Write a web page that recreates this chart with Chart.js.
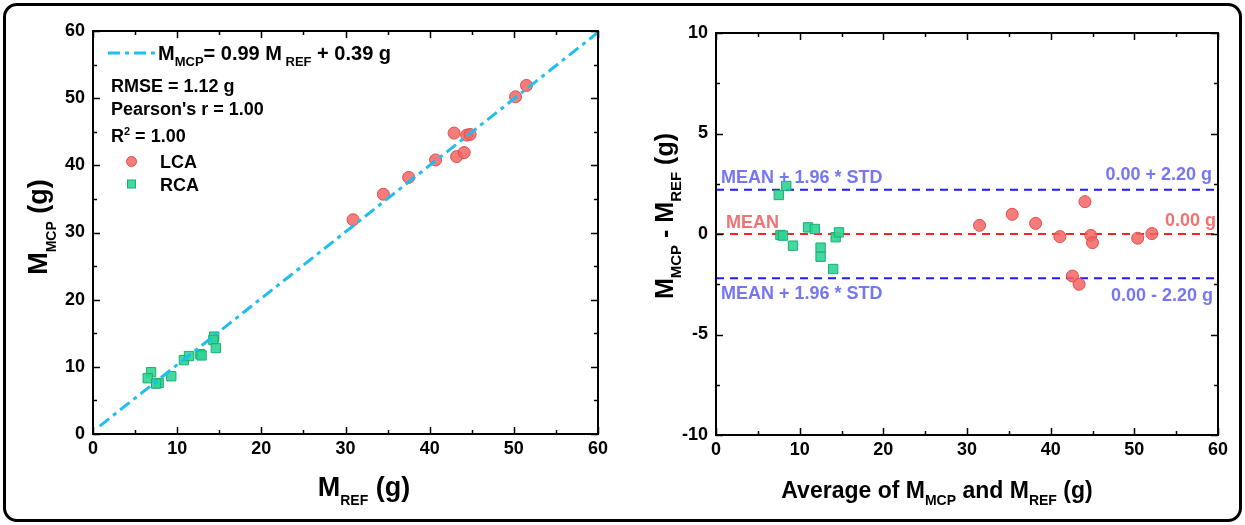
<!DOCTYPE html>
<html>
<head>
<meta charset="utf-8">
<script src="https://cdn.jsdelivr.net/npm/chart.js@4.4.1/dist/chart.umd.min.js"></script>
<style>
  body { margin: 0; background: #fff; width: 1245px; height: 525px; overflow: hidden; position: relative; }
  #frame { position: absolute; left: 3px; top: 3px; width: 1233px; height: 513px; border: 3px solid #000; border-radius: 14px; }
  canvas { position: absolute; top: 0; }
</style>
</head>
<body>
<div id="frame"></div>
<canvas id="left" width="620" height="525" style="left:0"></canvas>
<canvas id="right" width="625" height="525" style="left:620px"></canvas>
<script>
// correlation plot (x = M_REF, y = M_MCP)
const lcaRef = [30.9, 34.5, 37.5, 40.7, 42.9, 43.2, 44.1, 44.4, 44.8, 50.2, 51.5];
const lcaMcp = [31.9, 35.7, 38.2, 40.8, 44.8, 41.3, 41.9, 44.5, 44.6, 50.2, 51.9];
const rcaRef = [6.9, 6.5, 7.8, 7.5, 9.3, 10.8, 11.4, 12.7, 12.9, 14.4, 14.3, 14.6];
const rcaMcp = [9.2, 8.3, 7.6, 7.5, 8.6, 11.0, 11.6, 11.9, 11.7, 14.5, 14.0, 12.8];
const fitSlope = 0.99;
const fitIntercept = 0.39;
const fitRange = [0.8, 60];

// Bland-Altman plot (x = average, y = difference)
const lcaAvg = [31.5, 35.4, 38.2, 41.1, 44.1, 44.8, 45.0, 50.4, 52.1, 42.6, 43.4];
const lcaDiff = [0.43, 0.98, 0.53, -0.13, 1.61, -0.07, -0.43, -0.21, 0.02, -2.09, -2.50];
const rcaAvg = [7.5, 8.4, 7.7, 8.0, 9.2, 11.0, 11.8, 12.5, 12.5, 14.0, 14.3, 14.7];
const rcaDiff = [1.94, 2.39, -0.05, -0.08, -0.58, 0.33, 0.25, -0.68, -1.13, -1.74, -0.16, 0.08];
const meanDiff = 0.00;
const loa = 2.20;

const FONT = '"Liberation Sans", Arial, sans-serif';
const toXY = (xs, ys) => xs.map((v, i) => ({ x: v, y: ys[i] }));

const lcaStyle = { pointStyle: 'circle', pointRadius: 6, backgroundColor: 'rgba(245,100,100,0.85)', borderColor: 'rgb(225,75,75)', borderWidth: 1 };
const rcaStyle = { pointStyle: 'rect', pointRadius: 6.6, backgroundColor: 'rgba(45,212,150,0.9)', borderColor: 'rgb(25,175,110)', borderWidth: 1 };

// text with sub/superscripts, y is the baseline
function drawRich(ctx, parts, x, y, o) {
  const f = m => `bold ${m === 0 ? o.size : o.small}px ${FONT}`;
  let w = 0;
  parts.forEach(([t, m]) => { ctx.font = f(m); w += ctx.measureText(t).width; });
  ctx.save();
  ctx.translate(x, y);
  if (o.rot) ctx.rotate(o.rot);
  ctx.scale(o.sx || 1, 1);
  let cx = o.align === 'center' ? -w / 2 : o.align === 'right' ? -w : 0;
  ctx.textAlign = 'left';
  ctx.textBaseline = 'alphabetic';
  ctx.fillStyle = o.color || '#000';
  parts.forEach(([t, m]) => {
    ctx.font = f(m);
    const dy = m === 1 ? o.size * 0.32 : m === 2 ? -o.size * 0.4 : 0;
    ctx.fillText(t, cx, dy);
    cx += ctx.measureText(t).width;
  });
  ctx.restore();
}

// box around plot + inward ticks on all sides
const frameTicks = {
  id: 'frameTicks',
  afterDatasetsDraw(chart, args, opts) {
    const { ctx, chartArea: a, scales: { x, y } } = chart;
    ctx.save();
    ctx.strokeStyle = '#000';
    ctx.lineWidth = 1.5;
    ctx.beginPath();
    for (let v = x.min; v <= x.max + 1e-9; v += opts.xMinor) {
      const p = Math.round(x.getPixelForValue(v)) + 0.5;
      const len = Math.abs(v / opts.xMajor - Math.round(v / opts.xMajor)) < 1e-6 ? 7 : 4;
      ctx.moveTo(p, a.bottom); ctx.lineTo(p, a.bottom - len);
      ctx.moveTo(p, a.top); ctx.lineTo(p, a.top + len);
    }
    for (let v = y.min; v <= y.max + 1e-9; v += opts.yMinor) {
      const p = Math.round(y.getPixelForValue(v)) + 0.5;
      const len = Math.abs(v / opts.yMajor - Math.round(v / opts.yMajor)) < 1e-6 ? 7 : 4;
      ctx.moveTo(a.left, p); ctx.lineTo(a.left + len, p);
      ctx.moveTo(a.right, p); ctx.lineTo(a.right - len, p);
    }
    ctx.stroke();
    ctx.lineWidth = 2;
    ctx.strokeRect(a.left, a.top, a.right - a.left, a.bottom - a.top);
    ctx.restore();
  }
};

const tickFont = { family: FONT, weight: 'bold', size: 18 };

function axes(yMin, yMax, yStep, yWidth, xHeight) {
  return {
    x: {
      type: 'linear', min: 0, max: 60,
      ticks: { stepSize: 10, font: tickFont, color: '#000', padding: 4, autoSkip: false, maxRotation: 0 },
      grid: { display: false, drawTicks: false }, border: { display: false },
      afterFit(s) { s.height = xHeight; }
    },
    y: {
      type: 'linear', min: yMin, max: yMax,
      ticks: { stepSize: yStep, font: tickFont, color: '#000', padding: 8, autoSkip: false },
      grid: { display: false, drawTicks: false }, border: { display: false },
      afterFit(s) { s.width = yWidth; }
    }
  };
}

// left chart: legend block and axis titles
const leftDeco = {
  id: 'leftDeco',
  afterDraw(chart) {
    const ctx = chart.ctx;
    ctx.save();
    ctx.strokeStyle = 'rgb(30,190,240)';
    ctx.lineWidth = 3;
    ctx.setLineDash([12, 5, 4, 5]);
    ctx.beginPath(); ctx.moveTo(108, 53); ctx.lineTo(155, 53); ctx.stroke();
    ctx.restore();
    drawRich(ctx, [['M', 0], ['MCP', 1], ['= 0.99 M', 0], [' REF', 1], [' + 0.39 g', 0]], 158, 60, { size: 20, small: 13 });
    drawRich(ctx, [['RMSE = 1.12 g', 0]], 111, 92, { size: 18, small: 11 });
    drawRich(ctx, [["Pearson's r = 1.00", 0]], 111, 115, { size: 18, small: 11 });
    drawRich(ctx, [['R', 0], ['2', 2], [' = 1.00', 0]], 111, 142, { size: 18, small: 11 });
    ctx.save();
    ctx.fillStyle = lcaStyle.backgroundColor; ctx.strokeStyle = lcaStyle.borderColor;
    ctx.beginPath(); ctx.arc(131.5, 161.5, 5, 0, Math.PI * 2); ctx.fill(); ctx.stroke();
    ctx.fillStyle = rcaStyle.backgroundColor; ctx.strokeStyle = rcaStyle.borderColor;
    ctx.fillRect(127.5, 180, 8, 8); ctx.strokeRect(127.5, 180, 8, 8);
    ctx.restore();
    drawRich(ctx, [['LCA', 0]], 160, 168, { size: 18, small: 11 });
    drawRich(ctx, [['RCA', 0]], 160, 191, { size: 18, small: 11 });
    drawRich(ctx, [['M', 0], ['REF', 1], [' (g)', 0]], 364, 496, { size: 27, small: 14, align: 'center' });
    drawRich(ctx, [['M', 0], ['MCP', 1], [' (g)', 0]], 47, 227, { size: 27, small: 14, align: 'center', rot: -Math.PI / 2 });
  }
};

// right chart: limit labels and axis titles
const rightDeco = {
  id: 'rightDeco',
  afterDraw(chart) {
    const ctx = chart.ctx, y = chart.scales.y, a = chart.chartArea;
    const blue = 'rgb(118,118,240)', red = 'rgb(240,115,115)';
    const up = y.getPixelForValue(meanDiff + loa), mid = y.getPixelForValue(meanDiff), lo = y.getPixelForValue(meanDiff - loa);
    const o = { size: 18, small: 11, color: blue };
    drawRich(ctx, [['MEAN + 1.96 * STD', 0]], a.left + 5, up - 7, o);
    drawRich(ctx, [['MEAN + 1.96 * STD', 0]], a.left + 5, lo + 21, o);
    drawRich(ctx, [['0.00 + 2.20 g', 0]], a.right - 6, up - 10, { ...o, align: 'right' });
    drawRich(ctx, [['0.00 - 2.20 g', 0]], a.right - 5, lo + 23, { ...o, align: 'right' });
    drawRich(ctx, [['MEAN', 0]], a.left + 10, mid - 6, { ...o, color: red });
    drawRich(ctx, [['0.00 g', 0]], a.right - 2, mid - 8, { ...o, color: red, align: 'right' });
    drawRich(ctx, [['Average of M', 0], ['MCP', 1], [' and M', 0], ['REF', 1], [' (g)', 0]], 317, 498, { size: 23, small: 14, align: 'center' });
    drawRich(ctx, [['M', 0], ['MCP', 1], [' - M', 0], ['REF', 1], [' (g)', 0]], 53, 216, { size: 25, small: 15, align: 'center', rot: -Math.PI / 2 });
  }
};

const common = {
  responsive: false,
  animation: false,
  plugins: { legend: { display: false }, tooltip: { enabled: false } }
};

new Chart(document.getElementById('left'), {
  type: 'scatter',
  data: {
    datasets: [
      {
        type: 'line',
        data: fitRange.map(v => ({ x: v, y: fitSlope * v + fitIntercept })),
        borderColor: 'rgb(30,190,240)', borderWidth: 3, borderDash: [12, 5, 4, 5], pointRadius: 0, fill: false
      },
      { label: 'LCA', data: toXY(lcaRef, lcaMcp), ...lcaStyle },
      { label: 'RCA', data: toXY(rcaRef, rcaMcp), ...rcaStyle }
    ]
  },
  options: {
    ...common,
    layout: { padding: { top: 31, right: 22, left: 0, bottom: 0 } },
    scales: axes(0, 60, 10, 93, 91),
    plugins: { ...common.plugins, frameTicks: { xMinor: 5, xMajor: 10, yMinor: 5, yMajor: 10 } }
  },
  plugins: [frameTicks, leftDeco]
});

const limitLine = (v, color) => ({
  type: 'line',
  data: [{ x: 0, y: v }, { x: 60, y: v }],
  borderColor: color, borderWidth: 2, borderDash: [8, 6], pointRadius: 0, fill: false
});

new Chart(document.getElementById('right'), {
  type: 'scatter',
  data: {
    datasets: [
      { label: 'LCA', data: toXY(lcaAvg, lcaDiff), ...lcaStyle },
      { label: 'RCA', data: toXY(rcaAvg, rcaDiff), ...rcaStyle },
      limitLine(meanDiff + loa, 'rgb(30,30,245)'),
      limitLine(meanDiff, 'rgb(245,35,35)'),
      limitLine(meanDiff - loa, 'rgb(30,30,245)')
    ]
  },
  options: {
    ...common,
    layout: { padding: { top: 33, right: 27, left: 0, bottom: 0 } },
    scales: axes(-10, 10, 5, 96, 90),
    plugins: { ...common.plugins, frameTicks: { xMinor: 5, xMajor: 10, yMinor: 2.5, yMajor: 5 } }
  },
  plugins: [frameTicks, rightDeco]
});
</script>
</body>
</html>
